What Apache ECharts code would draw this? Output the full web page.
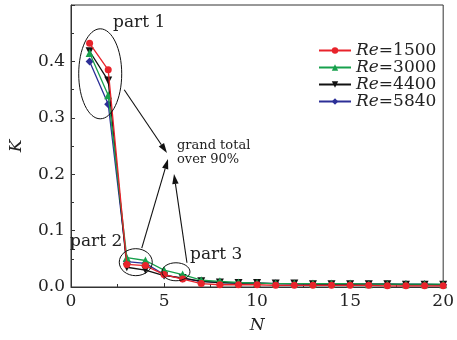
<!DOCTYPE html>
<html><head><meta charset="utf-8">
<script src="https://cdn.jsdelivr.net/npm/echarts@6/dist/echarts.min.js"></script>
<style>html,body{margin:0;padding:0;background:#fff}#c{width:457px;height:340px}</style>
</head><body><div id="c"></div>
<script>
const N = [1,2,3,4,5,6,7,8,9,10,11,12,13,14,15,16,17,18,19,20];
const seriesNames = ['1500','3000','4400','5840'];
const re1500 = [0.432,0.385,0.040,0.038,0.022,0.014,0.006,0.004,0.004,0.004,0.003,0.003,0.003,0.003,0.003,0.003,0.002,0.002,0.002,0.002];
const re3000 = [0.415,0.340,0.052,0.047,0.030,0.022,0.012,0.010,0.008,0.007,0.006,0.006,0.006,0.006,0.006,0.005,0.005,0.005,0.005,0.005];
const re4400 = [0.418,0.366,0.035,0.030,0.020,0.016,0.010,0.008,0.007,0.007,0.006,0.006,0.005,0.005,0.005,0.005,0.005,0.004,0.004,0.004];
const re5840 = [0.400,0.324,0.045,0.042,0.022,0.015,0.010,0.008,0.007,0.007,0.006,0.005,0.005,0.005,0.005,0.005,0.005,0.005,0.005,0.004];
const xTicks = [0,5,10,15,20];
const yTicks = [0.0,0.1,0.2,0.3,0.4];

const FONT = 'DejaVu Serif';
const colors = ['#e8232b','#17a04c','#111111','#2c2f97'];
const symbols = ['circle','triangle','triangle','diamond'];
const rots = [0,0,180,0];
const sizes = [7,8,8,8];
const values = [re1500,re3000,re4400,re5840];

const chart = echarts.init(document.getElementById('c'), null, {renderer:'canvas'});
const series = values.map((v,i)=>({
  name: seriesNames[i], type:'line',
  data: N.map((n,j)=>[n,v[j]]),
  symbol: symbols[i], symbolRotate: rots[i], symbolSize: sizes[i],
  lineStyle:{color:colors[i], width:1.3},
  itemStyle:{color:colors[i]},
  z: 10 - i
}));
chart.setOption({
  animation:false,
  backgroundColor:'#fff',
  grid:{left:68,right:13,top:5,bottom:53,show:true,borderColor:'#333',borderWidth:1},
  legend:{
    data: seriesNames, orient:'vertical', left:313, top:37,
    itemWidth:32, itemHeight:8, itemGap:0,
    formatter: n => '{i|Re}{n|=' + n + '}',
    textStyle:{fontFamily:FONT, fontSize:17, color:'#222',
      rich:{i:{fontFamily:FONT,fontStyle:'italic',fontSize:17,color:'#222'},
            n:{fontFamily:FONT,fontSize:17,color:'#222'}}}
  },
  xAxis:{type:'value',min:0,max:20,interval:5,
    name:'N',nameLocation:'middle',nameGap:30,
    nameTextStyle:{fontFamily:FONT,fontStyle:'italic',fontSize:17,color:'#222'},
    axisLine:{lineStyle:{color:'#333'}},
    axisTick:{inside:true,length:4,lineStyle:{color:'#333'}},
    minorTick:{show:true,splitNumber:2,length:3,lineStyle:{color:'#333'}},
    splitLine:{show:false},
    axisLabel:{fontFamily:FONT,fontSize:17,color:'#222',margin:6,
      formatter:v=> xTicks.includes(v)? String(v):''}
  },
  yAxis:{type:'value',min:0,max:0.5,interval:0.1,
    name:'K',nameLocation:'middle',nameGap:46,nameRotate:90,
    nameTextStyle:{fontFamily:FONT,fontStyle:'italic',fontSize:17,color:'#222'},
    axisLine:{show:true,lineStyle:{color:'#333'}},
    axisTick:{show:true,inside:true,length:4,lineStyle:{color:'#333'}},
    minorTick:{show:true,splitNumber:2,length:3,lineStyle:{color:'#333'}},
    splitLine:{show:false},
    axisLabel:{fontFamily:FONT,fontSize:17,color:'#222',margin:6,showMaxLabel:false,
      formatter:v=> { const t = yTicks.find(y=>Math.abs(y-v)<1e-9); return t===undefined?'':t.toFixed(1); }}
  },
  series: series
});

// annotations (pixel positions derived from data coordinates)
function px(x,y){ return chart.convertToPixel({gridIndex:0},[x,y]); }
function arrow(from,to){
  const dx=to[0]-from[0], dy=to[1]-from[1], L=Math.hypot(dx,dy);
  const ux=dx/L, uy=dy/L, hl=10, hw=3.2;
  const bx=to[0]-ux*hl, by=to[1]-uy*hl;
  return [
    {type:'line',shape:{x1:from[0],y1:from[1],x2:bx,y2:by},style:{stroke:'#111',lineWidth:1.1},z:100},
    {type:'polygon',shape:{points:[to,[bx-uy*hw,by+ux*hw],[bx+uy*hw,by-ux*hw]]},style:{fill:'#111'},z:100}
  ];
}
const e1 = px(1.57,0.378), e2 = px(3.48,0.044), e3 = px(5.64,0.027);
const tip = px(5.3,0.236);
const g = [
  {type:'ellipse',shape:{cx:e1[0],cy:e1[1],rx:21.5,ry:45},style:{stroke:'#111',fill:null,lineWidth:1},z:100},
  {type:'ellipse',shape:{cx:e2[0],cy:e2[1],rx:16.5,ry:13.5},style:{stroke:'#111',fill:null,lineWidth:1},z:100},
  {type:'ellipse',shape:{cx:e3[0],cy:e3[1],rx:14,ry:9},style:{stroke:'#111',fill:null,lineWidth:1},z:100},
  ...arrow([e1[0]+24,e1[1]+16],[167,153]),
  ...arrow([e2[0]+6,e2[1]-14],[168,159]),
  ...arrow([e3[0]+11,e3[1]-9],[174,174]),
  {type:'text',left:113,top:14,style:{text:'part 1',font:'17px "DejaVu Serif"',fill:'#222'},z:100},
  {type:'text',left:70,top:233,style:{text:'part 2',font:'17px "DejaVu Serif"',fill:'#222'},z:100},
  {type:'text',left:190,top:246,style:{text:'part 3',font:'17px "DejaVu Serif"',fill:'#222'},z:100},
  {type:'text',left:177,top:139,style:{text:'grand total\nover 90%',font:'13px "DejaVu Serif"',fill:'#222',lineHeight:14},z:100}
];
chart.setOption({graphic:g});
</script></body></html>
